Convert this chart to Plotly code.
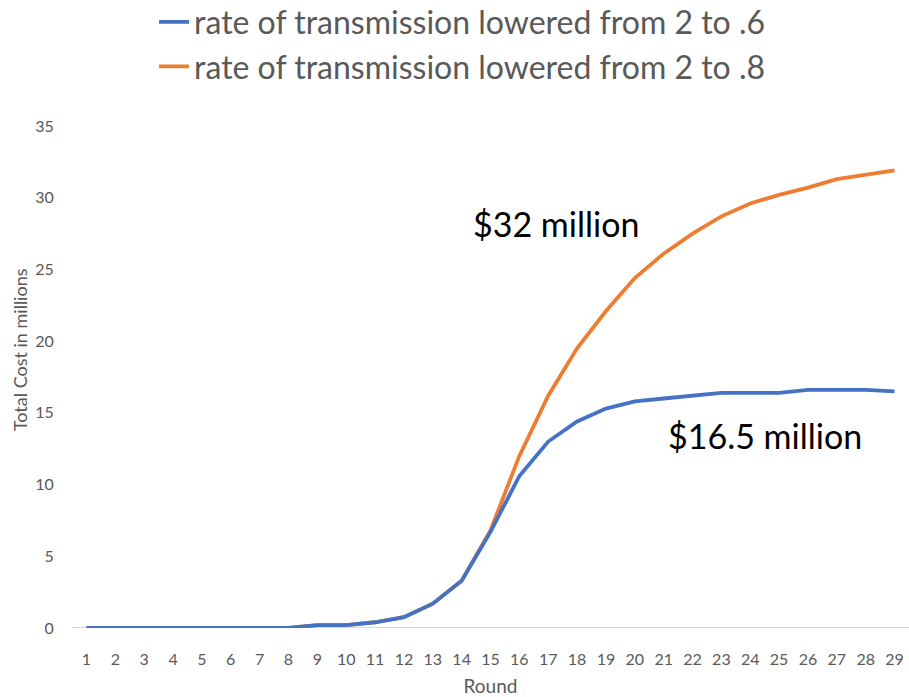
import plotly.graph_objects as go

rounds = list(range(1, 30))
cost_06 = [0, 0, 0, 0, 0, 0, 0, 0, 0.2, 0.2, 0.4, 0.75, 1.7, 3.3, 6.7, 10.6, 13.0, 14.4,
           15.3, 15.8, 16.0, 16.2, 16.4, 16.4, 16.4, 16.6, 16.6, 16.6, 16.5]
cost_08 = [0, 0, 0, 0, 0, 0, 0, 0, 0.2, 0.2, 0.4, 0.75, 1.7, 3.3, 6.8, 12.0, 16.2, 19.5,
           22.1, 24.4, 26.1, 27.5, 28.7, 29.6, 30.2, 30.7, 31.3, 31.6, 31.9]
name_06 = "rate of transmission lowered from 2 to .6"
name_08 = "rate of transmission lowered from 2 to .8"
y_ticks = [0, 5, 10, 15, 20, 25, 30, 35]
notes = [("$32 million", 17.27, 28.17), ("$16.5 million", 24.51, 13.39)]

FONT = "Lato"
GRAY = "#595959"

fig = go.Figure()
fig.add_trace(go.Scatter(x=rounds, y=cost_08, mode="lines", name=name_08,
                         line=dict(color="#ED7D31", width=3.8)))
fig.add_trace(go.Scatter(x=rounds, y=cost_06, mode="lines", name=name_06,
                         line=dict(color="#4472C4", width=3.8)))

for text, xv, yv in notes:
    fig.add_annotation(x=xv, y=yv, text=text, showarrow=False,
                       font=dict(family=FONT, size=34, color="#000000"))

# y-axis title placed where the reference has it
fig.add_annotation(xref="paper", yref="paper", x=-0.062, y=(628 - 350) / 502,
                   text="Total Cost in millions", textangle=-90, showarrow=False,
                   xanchor="center", yanchor="middle",
                   font=dict(family=FONT, size=18, color=GRAY))

fig.update_layout(
    width=909, height=697,
    margin=dict(l=72, r=0, t=126, b=69, autoexpand=False),
    paper_bgcolor="white", plot_bgcolor="white",
    font=dict(family=FONT, color=GRAY),
    legend=dict(orientation="v", x=0.466, xanchor="center", y=1.262, yanchor="top",
                traceorder="reversed", font=dict(family=FONT, size=32, color=GRAY),
                bgcolor="rgba(0,0,0,0)", itemwidth=30, tracegroupgap=0),
    xaxis=dict(range=[0.5, 29.5], tickmode="array", tickvals=rounds,
               ticktext=[str(r) for r in rounds], showgrid=False, zeroline=False,
               showline=False, ticks="outside", ticklen=17, tickcolor="rgba(0,0,0,0)",
               tickfont=dict(size=16, color=GRAY), automargin=False,
               title=dict(text="Round", font=dict(size=19, color=GRAY), standoff=12)),
    yaxis=dict(range=[0, 35], tickmode="array", tickvals=y_ticks, showgrid=False,
               zeroline=False, showline=False, ticks="outside", ticklen=14,
               tickcolor="rgba(0,0,0,0)", tickfont=dict(size=16, color=GRAY),
               automargin=False),
)
fig.add_shape(type="line", xref="x", yref="y", x0=0.5, x1=29.5, y0=0, y1=0,
              line=dict(color="#D9D9D9", width=2), layer="below")

fig.write_html("out.html")
